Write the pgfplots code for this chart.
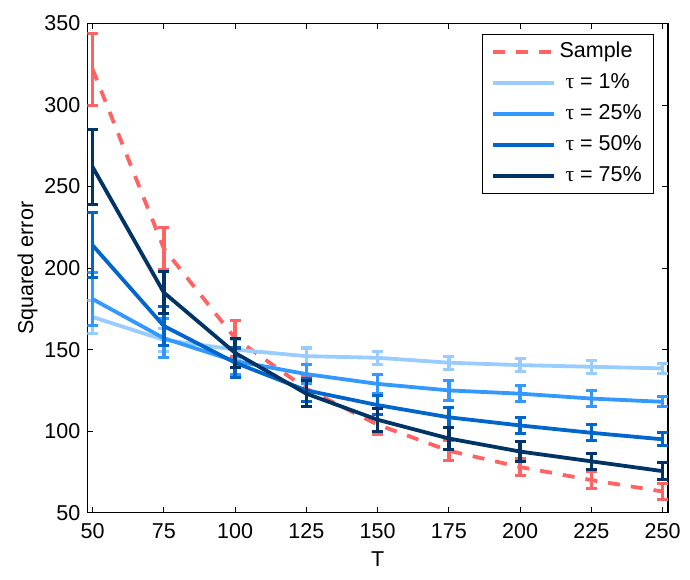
\documentclass[border=0pt]{standalone}
\usepackage{pgfplots}
\pgfplotsset{compat=1.18}
\usepackage{fontspec}
\setmainfont{Liberation Sans}
\newfontfamily\greekfont{Liberation Serif}
\newcommand{\tauu}{\hspace{6bp}{\greekfont τ}}

\definecolor{csample}{RGB}{255,99,99}
\definecolor{ctauA}{RGB}{153,204,255}
\definecolor{ctauB}{RGB}{51,153,255}
\definecolor{ctauC}{RGB}{0,102,204}
\definecolor{ctauD}{RGB}{0,51,102}

% T, mean squared error, half-width of the error bar
\pgfplotstableread{
x   y     e
50  322   22
75  212   13
100 157   11
125 126   8
150 104   6
175 88    6
200 78    5
225 70    5
250 63    5
}\sample
\pgfplotstableread{
x   y     e
50  170   10
75  156   7
100 150   6
125 146   5
150 145   4
175 142   4
200 140.5 4
225 139.5 4
250 138.5 3
}\tauA
\pgfplotstableread{
x   y     e
50  181   16
75  157   12
100 143   8
125 135   6
150 129   6
175 125   6
200 123   5
225 120   5
250 118   3
}\tauB
\pgfplotstableread{
x   y     e
50  214   20
75  164.5 12
100 142   9
125 125   7
150 116   6
175 108.5 6
200 103.5 5
225 99    5
250 95    4
}\tauC
\pgfplotstableread{
x   y     e
50  262   23
75  185   13
100 148   9
125 123   8
150 107   7
175 95.5  7
200 87.5  6
225 81.5  5
250 75.5  5
}\tauD

\pgfplotsset{
  ebar/.style={
    line width=3.8bp,
    /pgfplots/error bars/y dir=both,
    /pgfplots/error bars/y explicit,
    /pgfplots/error bars/error bar style={line width=3.5bp, solid},
    /pgfplots/error bars/error mark options={rotate=90, mark size=5.5bp, line width=3bp, solid},
  },
}

\begin{document}
\begin{tikzpicture}
\useasboundingbox (0,0) rectangle (690bp,580bp);
\begin{axis}[
  at={(87.3bp,67.3bp)}, anchor=south west,
  scale only axis, width=580.7bp, height=489.2bp,
  xmin=48.14, xmax=251.9, ymin=50, ymax=350,
  xtick={50,75,...,250}, ytick={50,100,...,350},
  tick align=inside, major tick length=6bp,
  every tick/.style={black, line width=1bp},
  axis line style={line width=1.2bp},
  tick label style={font=\fontsize{21.5bp}{25bp}\selectfont},
  xticklabel style={yshift=-7bp},
  yticklabel style={xshift=-3.5bp},
  label style={font=\fontsize{21.5bp}{25bp}\selectfont},
  xlabel style={yshift=-6bp},
  /pgf/number format/assume math mode=true,
  xlabel={T}, ylabel={Squared error},
  legend style={
    at={(0.6800,0.9795)}, anchor=north west,
    draw=black, line width=1.2bp,
    font=\fontsize{21.5bp}{25bp}\selectfont,
    inner xsep=8.5bp, inner ysep=8bp, row sep=12bp,
    nodes={inner xsep=3.5bp, inner ysep=0bp, text height=15bp, text depth=4bp},
  },
  legend cell align=left,
  legend image code/.code={\draw[#1] (0bp,0bp) -- (61bp,0bp);},
]
\addplot[color=csample, ebar, dash pattern=on 12bp off 11bp]
  table[x=x, y=y, y error=e] {\sample};
\addlegendentry{Sample}
\addplot[color=ctauA, ebar] table[x=x, y=y, y error=e] {\tauA};
\addlegendentry{\tauu{} = 1\%}
\addplot[color=ctauB, ebar] table[x=x, y=y, y error=e] {\tauB};
\addlegendentry{\tauu{} = 25\%}
\addplot[color=ctauC, ebar] table[x=x, y=y, y error=e] {\tauC};
\addlegendentry{\tauu{} = 50\%}
\addplot[color=ctauD, ebar] table[x=x, y=y, y error=e] {\tauD};
\addlegendentry{\tauu{} = 75\%}
\end{axis}
\end{tikzpicture}
\end{document}
